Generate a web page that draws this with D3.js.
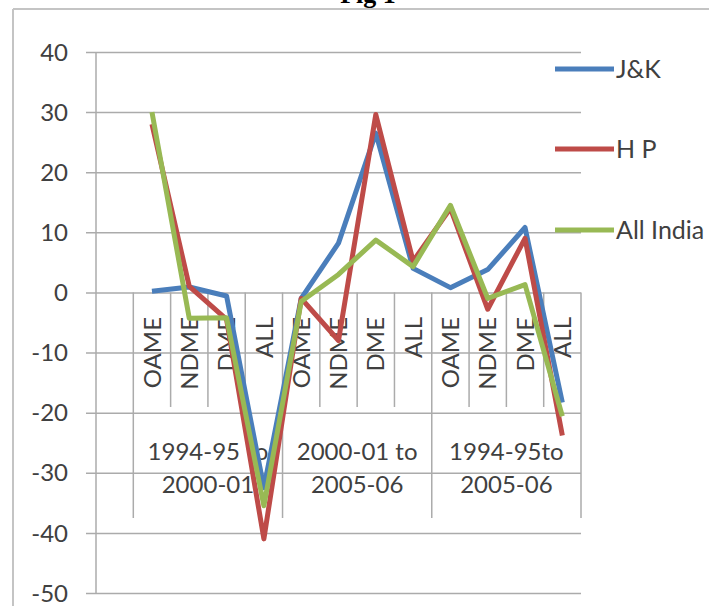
<!DOCTYPE html>
<html>
<head>
<meta charset="utf-8">
<script src="https://cdn.jsdelivr.net/npm/d3@7"></script>
<style>
    body { margin: 0; background: #fff; }
    .text { font-family: Lato, "Open Sans", sans-serif; fill: #404040; }
    .grid line { stroke: #ababab; stroke-width: 1.5; }
    .grid path { display: none; }
</style>
</head>
<body>
<div class="chart"></div>
<script>
// sub categories (first one is an empty slot in the original sheet)
var subCats = ['', 'OAME', 'NDME', 'DME', 'ALL', 'OAME', 'NDME', 'DME', 'ALL', 'OAME', 'NDME', 'DME', 'ALL'];
// period groups, two lines each
var groupLine1 = ['1994-95 to', '2000-01 to', '1994-95to'];
var groupLine2 = ['2000-01', '2005-06', '2005-06'];
var yTicks = [40, 30, 20, 10, 0, -10, -20, -30, -40, -50];

var seriesNames = ['J&K', 'H P', 'All India'];
var jk = [null, 0.2, 0.9, -0.6, -32.5, -1, 8.2, 26.5, 4, 0.8, 3.8, 10.8, -18.3];
var hp = [null, 28, 1, -4.5, -41, -1, -8, 29.6, 5.2, 14, -2.8, 9, -23.8];
var allIndia = [null, 30, -4.3, -4.2, -35.5, -1.5, 3, 8.7, 4.3, 14.5, -1, 1.3, -20.6];

var colors = ['#4a7ebb', '#be4b48', '#98b954'];

var width = 709,
    height = 606;

var svg = d3.select(".chart")
    .append("svg")
    .attr("width", width)
    .attr("height", height);

// caption, cut off at the top of the picture
svg.append("text")
    .attr("x", 368)
    .attr("y", 3)
    .attr("text-anchor", "middle")
    .style("font-family", "'Liberation Serif', 'DejaVu Serif', serif")
    .style("font-weight", "bold")
    .style("font-size", "26px")
    .text("Fig 1");

// chart frame
svg.append("line")
    .attr("x1", 13).attr("x2", width)
    .attr("y1", 9).attr("y2", 9)
    .style("stroke", "#c4c4c4").style("stroke-width", 2);
svg.append("line")
    .attr("x1", 13).attr("x2", 13)
    .attr("y1", 9).attr("y2", height)
    .style("stroke", "#c4c4c4").style("stroke-width", 2);

var plotL = 96, plotR = 581, plotT = 52, plotB = 593;

var x = d3.scaleBand()
    .domain(d3.range(subCats.length))
    .range([plotL, plotR]);

var y = d3.scaleLinear()
    .domain([-50, 40])
    .range([plotB, plotT]);

// horizontal gridlines with small ticks left of the axis
svg.append("g")
    .attr("class", "grid")
    .attr("transform", "translate(" + plotR + ",0)")
    .call(d3.axisLeft(y)
        .tickValues(yTicks)
        .tickSize(plotR - plotL + 10)
        .tickFormat("")
    );

// y axis line
svg.append("line")
    .attr("x1", plotL).attr("x2", plotL)
    .attr("y1", plotT).attr("y2", plotB)
    .style("stroke", "#ababab").style("stroke-width", 1.5);

// y labels
svg.selectAll(".ylab")
    .data(yTicks)
    .enter()
    .append("text")
    .attr("class", "text")
    .attr("x", 68)
    .attr("y", function(d) { return y(d); })
    .attr("dy", "0.36em")
    .attr("text-anchor", "end")
    .style("font-size", "24px")
    .text(function(d) { return d; });

// category separators: short between sub categories, long between groups
var sepIdx = d3.range(2, subCats.length + 1);
svg.selectAll(".sep")
    .data(sepIdx)
    .enter()
    .append("line")
    .attr("x1", function(d) { return plotL + d * x.bandwidth(); })
    .attr("x2", function(d) { return plotL + d * x.bandwidth(); })
    .attr("y1", y(0))
    .attr("y2", function(d) { return (d - 1) % 4 == 0 ? 518 : 407; })
    .style("stroke", "#ababab")
    .style("stroke-width", 1.5);
svg.append("line")
    .attr("x1", plotL + x.bandwidth()).attr("x2", plotL + x.bandwidth())
    .attr("y1", y(0)).attr("y2", 518)
    .style("stroke", "#ababab").style("stroke-width", 1.5);

// rotated sub category labels
svg.selectAll(".catlab")
    .data(subCats)
    .enter()
    .append("text")
    .attr("class", "text")
    .attr("transform", function(d, i) {
        return "translate(" + (x(i) + x.bandwidth() / 2) + ",317) rotate(-90)";
    })
    .attr("dy", "0.36em")
    .attr("text-anchor", "end")
    .style("font-size", "24px")
    .text(function(d) { return d; });

// group labels
groupLine1.forEach(function(g, k) {
    var cx = x(1 + k * 4) + 2 * x.bandwidth();
    svg.append("text")
        .attr("class", "text")
        .attr("x", cx)
        .attr("y", 460)
        .attr("text-anchor", "middle")
        .style("font-size", "24px")
        .text(g);
    svg.append("text")
        .attr("class", "text")
        .attr("x", cx)
        .attr("y", 493)
        .attr("text-anchor", "middle")
        .style("font-size", "24px")
        .text(groupLine2[k]);
});

// lines
var line = d3.line()
    .defined(function(d) { return d != null; })
    .x(function(d, i) { return x(i) + x.bandwidth() / 2; })
    .y(function(d) { return y(d); });

[jk, hp, allIndia].forEach(function(s, k) {
    svg.append("path")
        .datum(s)
        .attr("d", line)
        .style("fill", "none")
        .style("stroke", colors[k])
        .style("stroke-width", 5)
        .style("stroke-linejoin", "round");
});

// legend
var legY = [69, 149, 230];
seriesNames.forEach(function(n, k) {
    svg.append("line")
        .attr("x1", 555).attr("x2", 614)
        .attr("y1", legY[k]).attr("y2", legY[k])
        .style("stroke", colors[k])
        .style("stroke-width", 5);
    svg.append("text")
        .attr("class", "text")
        .attr("x", 616)
        .attr("y", legY[k])
        .attr("dy", "0.36em")
        .style("font-size", "25px")
        .text(n);
});
</script>
</body>
</html>
